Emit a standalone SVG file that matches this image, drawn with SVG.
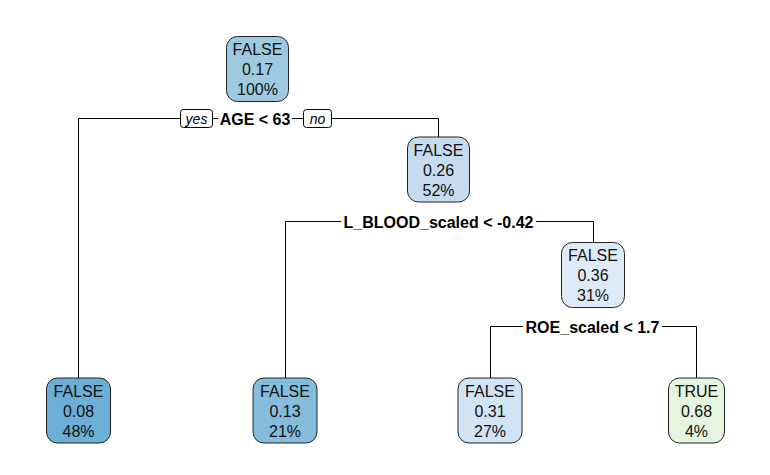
<svg xmlns="http://www.w3.org/2000/svg" width="770" height="475" viewBox="0 0 770 475">
<style>
.box{stroke:#222;stroke-width:1}
.nt{font-family:"Liberation Sans",Arial,sans-serif;font-size:16px;fill:#111;text-anchor:middle}
.lab{font-family:"Liberation Sans",Arial,sans-serif;font-size:16px;font-weight:bold;fill:#000;text-anchor:middle}
.yn{font-family:"Liberation Sans",Arial,sans-serif;font-size:14px;font-style:italic;fill:#000;text-anchor:middle}
.ynbox{fill:#fff;stroke:#000;stroke-width:1}
.ln{stroke:#000;stroke-width:1;fill:none}
</style>
<rect width="770" height="475" fill="#fff"/>
<g id="connectors">
<path class="ln" d="M78.5,378 V118.5 H180.5 M212.5,118.5 H218 M292,118.5 H303.5 M331.5,118.5 H438.5 V137"/>
<path class="ln" d="M285.5,378 V221.5 H341 M536,221.5 H593.5 V242.5"/>
<path class="ln" d="M490.5,378 V326.5 H523 M662,326.5 H696.5 V378"/>
<rect class="ynbox" x="180.5" y="109.5" width="32" height="18" rx="3"/>
<text class="yn" x="196.5" y="123.5">yes</text>
<rect class="ynbox" x="303.5" y="109.5" width="28" height="18" rx="3"/>
<text class="yn" x="317.5" y="123.5">no</text>
<text class="lab" x="255" y="124.5">AGE &lt; 63</text>
<text class="lab" x="438.5" y="227.5">L_BLOOD_scaled &lt; -0.42</text>
<text class="lab" x="592.5" y="332.5">ROE_scaled &lt; 1.7</text>
</g>
<g id="node1">
<rect class="box" x="226.5" y="36.5" width="62" height="65" rx="11" fill="#9ECAE1"/>
<text class="nt" x="257.5" y="55">FALSE</text>
<text class="nt" x="257.5" y="75">0.17</text>
<text class="nt" x="257.5" y="95">100%</text>
</g>
<g id="node3">
<rect class="box" x="407.5" y="137" width="62" height="65" rx="11" fill="#C6DBEF"/>
<text class="nt" x="438.5" y="155.5">FALSE</text>
<text class="nt" x="438.5" y="175.5">0.26</text>
<text class="nt" x="438.5" y="195.5">52%</text>
</g>
<g id="node7">
<rect class="box" x="561.5" y="242.5" width="63" height="65" rx="11" fill="#DEEBF7"/>
<text class="nt" x="593" y="261">FALSE</text>
<text class="nt" x="593" y="281">0.36</text>
<text class="nt" x="593" y="301">31%</text>
</g>
<g id="node2">
<rect class="box" x="46.5" y="378" width="64" height="65" rx="11" fill="#6BAED6"/>
<text class="nt" x="78.5" y="396.5">FALSE</text>
<text class="nt" x="78.5" y="416.5">0.08</text>
<text class="nt" x="78.5" y="436.5">48%</text>
</g>
<g id="node6">
<rect class="box" x="253" y="378" width="64" height="65" rx="11" fill="#85BCDC"/>
<text class="nt" x="285" y="396.5">FALSE</text>
<text class="nt" x="285" y="416.5">0.13</text>
<text class="nt" x="285" y="436.5">21%</text>
</g>
<g id="node14">
<rect class="box" x="458" y="378" width="64" height="65" rx="11" fill="#D2E3F3"/>
<text class="nt" x="490" y="396.5">FALSE</text>
<text class="nt" x="490" y="416.5">0.31</text>
<text class="nt" x="490" y="436.5">27%</text>
</g>
<g id="node15">
<rect class="box" x="668.5" y="378" width="56" height="65" rx="11" fill="#E5F5E0"/>
<text class="nt" x="696.5" y="396.5">TRUE</text>
<text class="nt" x="696.5" y="416.5">0.68</text>
<text class="nt" x="696.5" y="436.5">4%</text>
</g>
</svg>
